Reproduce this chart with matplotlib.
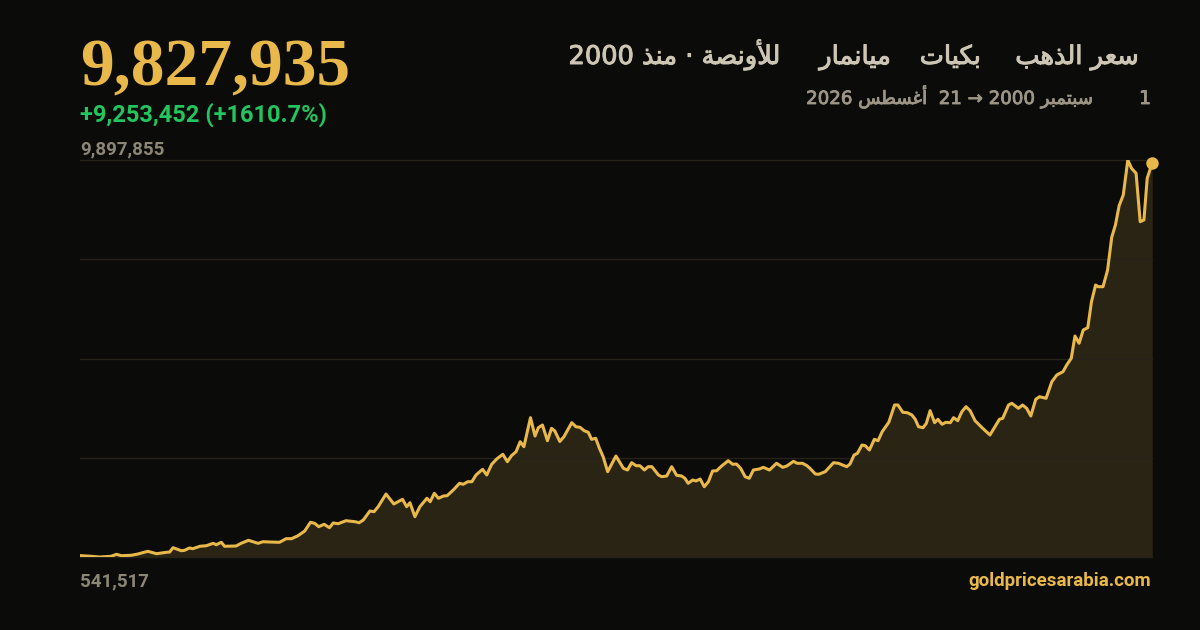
import matplotlib
matplotlib.use("Agg")
import matplotlib.pyplot as plt
import matplotlib.patheffects as pe

# ---------------- data ----------------
years = [2000.67, 2000.94, 2001.14, 2001.42, 2001.55, 2001.67, 2001.91, 2002.07, 2002.31, 2002.52,
         2002.76, 2002.84, 2002.92, 2003.12, 2003.20, 2003.32, 2003.40, 2003.57, 2003.73, 2003.89,
         2003.97, 2004.09, 2004.17, 2004.45, 2004.57, 2004.75, 2004.98, 2005.10, 2005.26, 2005.50,
         2005.66, 2005.79, 2005.95, 2006.11, 2006.25, 2006.35, 2006.45, 2006.58, 2006.71, 2006.80,
         2006.92, 2007.11, 2007.33, 2007.43, 2007.53, 2007.69, 2007.79, 2007.89, 2008.08, 2008.27,
         2008.48, 2008.58, 2008.66, 2008.78, 2008.90, 2009.07, 2009.15, 2009.25, 2009.35, 2009.47,
         2009.56, 2009.71, 2009.86, 2009.95, 2010.06, 2010.16, 2010.26, 2010.42, 2010.52, 2010.64,
         2010.76, 2010.91, 2011.02, 2011.12, 2011.23, 2011.33, 2011.42, 2011.58, 2011.69, 2011.77,
         2011.87, 2011.99, 2012.09, 2012.17, 2012.29, 2012.39, 2012.58, 2012.68, 2012.78, 2012.88,
         2012.98, 2013.06, 2013.16, 2013.25, 2013.34, 2013.45, 2013.65, 2013.83, 2013.93, 2014.03,
         2014.14, 2014.23, 2014.34, 2014.43, 2014.52, 2014.68, 2014.76, 2014.88, 2015.00, 2015.12,
         2015.24, 2015.32, 2015.40, 2015.51, 2015.59, 2015.69, 2015.79, 2015.89, 2015.99, 2016.09,
         2016.21, 2016.37, 2016.48, 2016.57, 2016.67, 2016.78, 2016.88, 2016.98, 2017.12, 2017.22,
         2017.37, 2017.54, 2017.69, 2017.79, 2017.95, 2018.04, 2018.17, 2018.27, 2018.35, 2018.48,
         2018.56, 2018.72, 2018.92, 2019.04, 2019.24, 2019.32, 2019.42, 2019.50, 2019.61, 2019.69,
         2019.79, 2019.91, 2020.00, 2020.10, 2020.26, 2020.40, 2020.48, 2020.60, 2020.71, 2020.82,
         2020.90, 2020.98, 2021.09, 2021.17, 2021.26, 2021.37, 2021.45, 2021.55, 2021.64, 2021.75,
         2021.83, 2021.93, 2022.03, 2022.13, 2022.23, 2022.35, 2022.51, 2022.71, 2022.83, 2022.94,
         2023.02, 2023.16, 2023.24, 2023.40, 2023.50, 2023.60, 2023.70, 2023.82, 2023.91, 2024.07,
         2024.21, 2024.33, 2024.48, 2024.57, 2024.68, 2024.77, 2024.87, 2024.97, 2025.08, 2025.17,
         2025.27, 2025.33, 2025.45, 2025.56, 2025.66, 2025.75, 2025.84, 2025.94, 2026.05, 2026.14,
         2026.25, 2026.35, 2026.44, 2026.52, 2026.64]

prices = [574483, 558000, 541517, 558000, 605000, 572000, 582000, 612000, 676000, 619000,
          652000, 659000, 761000, 690000, 699000, 754000, 737000, 794000, 808000, 864000,
          831000, 888000, 794000, 801000, 864000, 935000, 864000, 902000, 895000, 888000,
          973000, 973000, 1044000, 1154000, 1359000, 1336000, 1256000, 1312000, 1232000, 1343000,
          1326000, 1397000, 1373000, 1350000, 1414000, 1626000, 1609000, 1727000, 2026000, 1791000,
          1901000, 1727000, 1821000, 1491000, 1727000, 1925000, 1845000, 2043000, 1925000, 1979000,
          1986000, 2121000, 2278000, 2255000, 2316000, 2316000, 2474000, 2608000, 2474000, 2726000,
          2851000, 2962000, 2788000, 2929000, 3023000, 3259000, 3141000, 3825000, 3393000, 3589000,
          3652000, 3282000, 3575000, 3511000, 3264000, 3377000, 3707000, 3612000, 3598000, 3518000,
          3480000, 3315000, 3339000, 3103000, 2905000, 2552000, 2922000, 2632000, 2592000, 2764000,
          2693000, 2693000, 2592000, 2670000, 2670000, 2474000, 2434000, 2451000, 2670000, 2467000,
          2451000, 2396000, 2278000, 2356000, 2333000, 2380000, 2198000, 2316000, 2568000, 2575000,
          2686000, 2811000, 2726000, 2733000, 2632000, 2434000, 2396000, 2592000, 2615000, 2655000,
          2592000, 2750000, 2655000, 2686000, 2797000, 2750000, 2750000, 2698000, 2632000, 2498000,
          2491000, 2552000, 2764000, 2750000, 2670000, 2733000, 2945000, 2985000, 3181000, 3165000,
          3063000, 3315000, 3282000, 3495000, 3716000, 4124000, 4124000, 3952000, 3942000, 3888000,
          3787000, 3612000, 3589000, 3693000, 3990000, 3707000, 3787000, 3669000, 3716000, 3707000,
          3825000, 3754000, 3966000, 4084000, 3990000, 3754000, 3598000, 3417000, 3612000, 3787000,
          3810000, 4124000, 4164000, 4046000, 4124000, 4046000, 3865000, 4258000, 4319000, 4282000,
          4673000, 4831000, 4909000, 5067000, 5224000, 5750000, 5578000, 5891000, 5946000, 6558000,
          6952000, 6912000, 6912000, 7305000, 8076000, 8366000, 8821000, 9073000, 9897855, 9703000,
          9585000, 8444000, 8484000, 9467000, 9827935]

title_parts = ["سعر الذهب", "بكيات", "ميانمار", "للأونصة · منذ"]
title_year = "2000"
start_day, start_month, start_year = "1", "سبتمبر", "2000"
end_day, end_month, end_year = "21", "أغسطس", "2026"
x_start, x_end = 2000.667, 2026.636
site = "goldpricesarabia.com"

# ---------------- minimal Arabic shaping (presentation forms) ----------------
FORMS = {
    'ا': ('\uFE8D', '\uFE8E'), 'أ': ('\uFE83', '\uFE84'),
    'ب': ('\uFE8F', '\uFE90', '\uFE91', '\uFE92'), 'ة': ('\uFE93', '\uFE94'),
    'ت': ('\uFE95', '\uFE96', '\uFE97', '\uFE98'), 'ذ': ('\uFEAB', '\uFEAC'),
    'ر': ('\uFEAD', '\uFEAE'), 'س': ('\uFEB1', '\uFEB2', '\uFEB3', '\uFEB4'),
    'ص': ('\uFEB9', '\uFEBA', '\uFEBB', '\uFEBC'), 'ط': ('\uFEC1', '\uFEC2', '\uFEC3', '\uFEC4'),
    'ع': ('\uFEC9', '\uFECA', '\uFECB', '\uFECC'), 'غ': ('\uFECD', '\uFECE', '\uFECF', '\uFED0'),
    'ك': ('\uFED9', '\uFEDA', '\uFEDB', '\uFEDC'), 'ل': ('\uFEDD', '\uFEDE', '\uFEDF', '\uFEE0'),
    'م': ('\uFEE1', '\uFEE2', '\uFEE3', '\uFEE4'), 'ن': ('\uFEE5', '\uFEE6', '\uFEE7', '\uFEE8'),
    'ه': ('\uFEE9', '\uFEEA', '\uFEEB', '\uFEEC'), 'و': ('\uFEED', '\uFEEE'),
    'ي': ('\uFEF1', '\uFEF2', '\uFEF3', '\uFEF4'),
    'لا': ('\uFEFB', '\uFEFC'), 'لأ': ('\uFEF7', '\uFEF8'),
}


def ar(s):
    units, i = [], 0
    while i < len(s):
        if s[i] == 'ل' and i + 1 < len(s) and s[i + 1] in 'اأ':
            units.append(s[i:i + 2]); i += 2
        else:
            units.append(s[i]); i += 1
    out = []
    for k, u in enumerate(units):
        f = FORMS.get(u)
        if f is None:
            out.append(u); continue
        prev = units[k - 1] if k > 0 else None
        nxt = units[k + 1] if k + 1 < len(units) else None
        jp = prev in FORMS and len(FORMS[prev]) == 4
        jn = nxt in FORMS and len(f) == 4
        out.append(f[3] if (jp and jn) else f[1] if jp else f[2] if jn else f[0])
    return ''.join(out)[::-1]


# ---------------- style ----------------
BG = '#0b0b0a'
GOLD = '#e8b84b'
FILL = '#2a2415'
GRID = '#252219'
GREEN = '#22c55e'
GRAY = '#8c8677'
TITLE = '#cdc6b4'
SUB = '#9d9687'

W, H = 1200, 630
fig = plt.figure(figsize=(12, 6.3), dpi=100, facecolor=BG)


def px(x, y):
    return x / W, 1 - y / H


ax = fig.add_axes([80 / W, 1 - 557 / H, 1072 / W, 397 / H])
ax.set_facecolor(BG)
ymin, ymax = min(prices), max(prices)
ax.set_xlim(x_start, x_end)
ax.set_ylim(ymin, ymax)
for s in ax.spines.values():
    s.set_visible(False)
ax.set_xticks([]); ax.set_yticks([])

ax.fill_between(years, prices, ymin, color=FILL, lw=0, zorder=1)
for k in range(5):
    ax.axhline(ymin + k * (ymax - ymin) / 4, color=GRID, lw=1, zorder=1.5, clip_on=False)
ax.plot(years, prices, color=GOLD, lw=2.2, solid_joinstyle='round', zorder=3)
ax.plot([years[-1]], [prices[-1]], 'o', color=GOLD, ms=9, mec='none', zorder=4, clip_on=False)

# ---------------- texts ----------------
last, first = prices[-1], prices[0]
chg = last - first
pct = chg / first * 100

fig.text(*px(80, 86), f"{last:,}", color=GOLD, fontsize=48.5, fontweight='bold',
         family='Liberation Serif', va='baseline', ha='left')
fig.text(*px(80, 122), f"+{chg:,} (+{pct:.1f}%)", color=GREEN, fontsize=17,
         fontweight='bold', family='Roboto', va='baseline', ha='left')
fig.text(*px(80, 154), f"{ymax:,}", color=GRAY, fontsize=13.5, fontweight='bold',
         family='Roboto', va='baseline', ha='left')
fig.text(*px(80, 586), f"{ymin:,}", color=GRAY, fontsize=13.5, fontweight='bold',
         family='Roboto', va='baseline', ha='left')
fig.text(*px(1151, 586), site, color=GOLD, fontsize=13.5, fontweight='bold',
         family='Roboto', va='baseline', ha='right')

tfam = ['DejaVu Sans']
t_fx = [pe.withStroke(linewidth=0.7, foreground=TITLE)]
s_fx = [pe.withStroke(linewidth=0.6, foreground=SUB)]
title_right = [1139, 981, 891, 781]
for part, xr in zip(title_parts[:3], title_right[:3]):
    fig.text(*px(xr, 64), ar(part), color=TITLE, fontsize=18.5,
             family=tfam, va='baseline', ha='right', path_effects=t_fx)
fig.text(*px(title_right[3], 64), title_year + " " + ar(title_parts[3]), color=TITLE,
         fontsize=18.5, family=tfam, va='baseline', ha='right', path_effects=t_fx)

fig.text(*px(1151, 104), start_day, color=SUB, fontsize=13.5,
         family=tfam, va='baseline', ha='right', path_effects=s_fx)
sub = f"{end_year} {ar(end_month)}  {end_day} \u2192 {start_year} {ar(start_month)}"
fig.text(*px(1093, 104), sub, color=SUB, fontsize=13.1, family=tfam,
         va='baseline', ha='right', path_effects=s_fx)

fig.savefig('out.png', dpi=100, facecolor=BG)
